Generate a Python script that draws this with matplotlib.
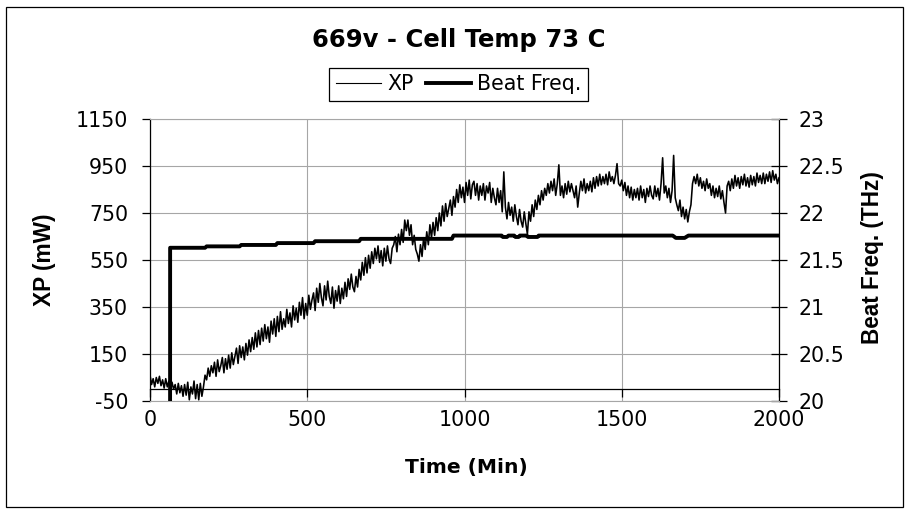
import matplotlib
matplotlib.use("Agg")
import matplotlib.pyplot as plt
from matplotlib.lines import Line2D
from matplotlib.patches import Rectangle
import numpy as np

plt.rcParams["axes.unicode_minus"] = False
plt.rcParams["font.family"] = ["DejaVu Sans"]

# ---- data -------------------------------------------------------------
# XP output power (mW), logged every 5 minutes from 0 to 2000 min
time_min = np.arange(0, 2001, 5)
xp_mw = [
    60, 20, 45, 10, 50, 25, 55, 15, 40, 5,            # 0
    45, 10, 35, -10, 30, 0, 20, -20, 25, -15,         # 50
    15, -30, 20, -25, 30, -45, 10, -20, 35, -40,      # 100
    20, -45, 25, -30, 10, 60, 40, 90, 55, 100,        # 150
    70, 115, 55, 125, 75, 100, 135, 70, 130, 85,      # 200
    145, 90, 155, 105, 140, 175, 110, 185, 135, 180,  # 250
    125, 195, 145, 210, 160, 220, 170, 240, 180, 250, # 300
    190, 260, 205, 275, 215, 265, 200, 290, 235, 300, # 350
    225, 310, 245, 330, 255, 300, 265, 340, 280, 325, # 400
    265, 355, 295, 345, 285, 370, 315, 390, 300, 365, # 450
    315, 400, 340, 380, 410, 335, 430, 370, 450, 390, # 500
    355, 440, 380, 460, 395, 365, 435, 345, 420, 375, # 550
    440, 365, 430, 385, 455, 395, 470, 425, 490, 435, # 600
    415, 480, 435, 510, 465, 540, 485, 560, 495, 570, # 650
    515, 585, 535, 600, 555, 610, 540, 590, 525, 600, # 700
    545, 610, 555, 535, 600, 615, 650, 585, 660, 615, # 750
    680, 625, 720, 675, 720, 655, 700, 615, 655, 595, # 800
    575, 545, 615, 565, 645, 595, 670, 615, 700, 645, # 850
    710, 655, 730, 675, 750, 695, 780, 715, 790, 735, # 900
    770, 805, 740, 820, 775, 850, 795, 870, 815, 860, # 950
    795, 880, 825, 890, 810, 870, 885, 825, 875, 805, # 1000
    865, 825, 875, 805, 865, 835, 880, 795, 855, 815, # 1050
    785, 855, 795, 845, 755, 925, 775, 725, 795, 740, # 1100
    775, 715, 785, 735, 700, 765, 715, 690, 755, 705, # 1150
    660, 755, 715, 785, 735, 805, 765, 825, 785, 845, # 1200
    805, 855, 825, 875, 835, 885, 845, 895, 825, 875, # 1250
    955, 825, 865, 815, 875, 830, 885, 840, 875, 845, # 1300
    815, 865, 775, 835, 885, 845, 895, 835, 875, 845, # 1350
    885, 840, 900, 855, 905, 865, 915, 870, 905, 875, # 1400
    915, 870, 925, 885, 905, 875, 910, 960, 875, 865, # 1450
    890, 845, 880, 825, 865, 815, 860, 805, 850, 815, # 1500
    855, 805, 865, 815, 850, 795, 855, 820, 865, 825, # 1550
    810, 865, 820, 855, 805, 875, 985, 835, 865, 815, # 1600
    855, 795, 845, 995, 815, 785, 760, 805, 735, 775, # 1650
    725, 765, 712, 755, 785, 875, 905, 875, 915, 865, # 1700
    900, 855, 885, 845, 895, 855, 875, 825, 865, 815, # 1750
    855, 820, 865, 810, 845, 795, 750, 865, 885, 845, # 1800
    895, 855, 910, 865, 900, 855, 905, 870, 915, 865, # 1850
    900, 860, 910, 870, 905, 865, 920, 880, 910, 875, # 1900
    920, 875, 915, 885, 925, 880, 930, 890, 915, 875, # 1950
    900,                                              # 2000
]

# Beat frequency (THz): no reading before ~63 min, then slow upward steps
bf_time = [0, 62, 64, 175, 180, 285, 290, 400, 405, 520, 525, 665, 670,
           960, 965, 1118, 1122, 1135, 1140, 1158, 1162, 1172, 1176, 1198,
           1202, 1232, 1236, 1662, 1672, 1700, 1712, 2000]
bf_thz = [0, 0, 21.63, 21.63, 21.645, 21.645, 21.66, 21.66, 21.68, 21.68,
          21.70, 21.70, 21.725, 21.725, 21.76, 21.76, 21.745, 21.745, 21.76,
          21.76, 21.745, 21.745, 21.76, 21.76, 21.745, 21.745, 21.76, 21.76,
          21.735, 21.735, 21.76, 21.76]

x_ticks = [0, 500, 1000, 1500, 2000]
xp_ticks = [-50, 150, 350, 550, 750, 950, 1150]
xp_tick_labels = ["-50", "150", "350", "550", "750", "950", "1150"]
bf_ticks = [20, 20.5, 21, 21.5, 22, 22.5, 23]
bf_tick_labels = ["20", "20.5", "21", "21.5", "22", "22.5", "23"]

title = "669v - Cell Temp 73 C"
xp_label = "XP (mW)"
bf_label = "Beat Freq. (THz)"
time_label = "Time (Min)"

# ---- figure -----------------------------------------------------------
W, H = 911, 512
fig = plt.figure(figsize=(W / 100, H / 100), dpi=100)
fig.patch.set_facecolor("white")

grid_c = "#a6a6a6"
tick_fs = 14.8

ax = fig.add_axes([150 / W, 1 - 401 / H, 629 / W, 282 / H])
ax.plot(time_min, xp_mw, color="black", lw=1.15, zorder=3)
ax.set_xlim(0, 2000)
ax.set_ylim(-50, 1150)
ax.set_xticks(x_ticks)
ax.set_yticks(xp_ticks, labels=xp_tick_labels)
ax.grid(True, color=grid_c, lw=0.8, zorder=0)
ax.set_axisbelow(True)

ax.spines["bottom"].set_position(("data", 0))
ax.spines["top"].set_visible(False)
ax.spines["right"].set_visible(False)
for s in ("left", "bottom"):
    ax.spines[s].set_color("black")
    ax.spines[s].set_linewidth(0.9)
ax.tick_params(axis="x", direction="out", length=5.8, width=0.9,
               labelsize=tick_fs, pad=9)
ax.tick_params(axis="y", direction="out", length=5.8, width=0.9,
               labelsize=tick_fs, pad=10)

ax2 = ax.twinx()
ax2.plot(bf_time, bf_thz, color="black", lw=2.8, zorder=4)
ax2.set_ylim(20, 23)
ax2.set_yticks(bf_ticks, labels=bf_tick_labels)
ax2.tick_params(axis="y", direction="inout", length=12, width=0.9,
                labelsize=tick_fs, pad=8)
ax2.spines["left"].set_visible(False)
ax2.spines["right"].set_color("black")
ax2.spines["right"].set_linewidth(0.9)
for s in ("top", "bottom"):
    ax2.spines[s].set_color(grid_c)
    ax2.spines[s].set_linewidth(0.8)

# titles and axis labels
fig.text(459 / W, 1 - 40 / H, title, ha="center", va="center",
         fontsize=17.5, fontweight="bold")
fig.text(466 / W, 1 - 467 / H, time_label, ha="center", va="center",
         fontsize=14.6, fontweight="bold")
fig.text(44 / W, 1 - 260 / H, xp_label, ha="center", va="center",
         rotation=90, fontsize=16.3, fontweight="bold",
         family=["Liberation Sans", "DejaVu Sans"])
fig.text(873 / W, 1 - 258 / H, bf_label, ha="center", va="center",
         rotation=90, fontsize=16.3, fontweight="bold",
         family=["Liberation Sans", "DejaVu Sans"])

# legend
handles = [Line2D([], [], color="black", lw=0.8),
           Line2D([], [], color="black", lw=2.8)]
leg = fig.legend(handles, ["XP", "Beat Freq."], loc="center",
                 bbox_to_anchor=(458.5 / W, 1 - 84.5 / H), ncol=2,
                 frameon=True, fancybox=False, framealpha=1,
                 edgecolor="black", fontsize=tick_fs, handlelength=2.2,
                 handletextpad=0.3, columnspacing=0.6, borderpad=0.3,
                 borderaxespad=0)
leg.get_frame().set_linewidth(0.9)

# outer chart frame
fig.patches.append(Rectangle((6 / W, 1 - 507 / H), 897 / W, 500 / H,
                             transform=fig.transFigure, fill=False,
                             edgecolor="black", lw=0.9))

fig.savefig("out.png", dpi=100, facecolor="white")
